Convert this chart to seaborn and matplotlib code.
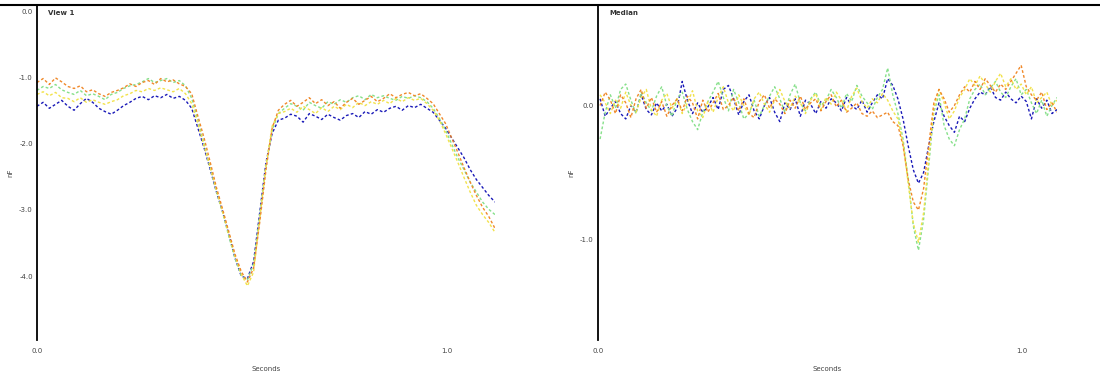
from matplotlib import pyplot as plt
from matplotlib.lines import Line2D
import seaborn as sns
import pandas as pd
import numpy as np

# left panel, "View 1": 75 samples per trace
view_blue = [1.43, 1.37, 1.46, 1.40, 1.34, 1.43, 1.49, 1.39, 1.31, 1.37, 1.46, 1.51, 1.55, 1.49, 1.42,
             1.37, 1.31, 1.28, 1.33, 1.27, 1.30, 1.25, 1.31, 1.28, 1.34,
             1.46, 1.76, 2.06, 2.39, 2.73, 3.03, 3.37, 3.73, 4.00, 4.04, 3.78, 3.03, 2.28, 1.84, 1.64,
             1.61, 1.55, 1.58, 1.67, 1.54, 1.58, 1.63, 1.55, 1.60, 1.64, 1.57, 1.54, 1.60, 1.51, 1.55,
             1.48, 1.52, 1.46, 1.43, 1.49, 1.42, 1.45, 1.40,
             1.46, 1.52, 1.64, 1.76, 1.91, 2.06, 2.21, 2.39, 2.54, 2.66, 2.78, 2.88]
view_green = [1.19, 1.13, 1.16, 1.10, 1.18, 1.22, 1.25, 1.19, 1.27, 1.24, 1.28, 1.33, 1.25, 1.22, 1.16,
              1.12, 1.10, 1.06, 1.01, 1.07, 1.04, 1.01, 1.07, 1.04, 1.12,
              1.31, 1.64, 2.00, 2.36, 2.72, 3.04, 3.40, 3.73, 3.99, 4.06, 3.82, 3.07, 2.33, 1.79, 1.54,
              1.46, 1.39, 1.43, 1.49, 1.37, 1.42, 1.46, 1.36, 1.40, 1.33, 1.37, 1.30, 1.27, 1.33, 1.25,
              1.30, 1.27, 1.31, 1.34, 1.28, 1.31, 1.27, 1.30,
              1.36, 1.46, 1.61, 1.79, 2.00, 2.21, 2.39, 2.58, 2.73, 2.88, 2.99, 3.07]
view_yellow = [1.25, 1.21, 1.27, 1.22, 1.30, 1.31, 1.36, 1.30, 1.37, 1.33, 1.37, 1.40, 1.36, 1.33, 1.27,
               1.24, 1.19, 1.21, 1.16, 1.19, 1.15, 1.18, 1.21, 1.16, 1.24,
               1.39, 1.69, 2.03, 2.36, 2.70, 3.03, 3.37, 3.70, 3.97, 4.15, 3.94, 3.13, 2.33, 1.73, 1.54,
               1.51, 1.46, 1.52, 1.43, 1.48, 1.54, 1.45, 1.51, 1.43, 1.48, 1.40, 1.45, 1.37, 1.42, 1.36,
               1.40, 1.34, 1.39, 1.31, 1.36, 1.30, 1.34, 1.31,
               1.39, 1.49, 1.64, 1.84, 2.06, 2.28, 2.51, 2.73, 2.93, 3.07, 3.19, 3.34]
view_orange = [1.07, 1.01, 1.10, 1.00, 1.06, 1.13, 1.16, 1.12, 1.21, 1.18, 1.24, 1.28, 1.22, 1.19, 1.15,
               1.09, 1.13, 1.07, 1.04, 1.10, 1.01, 1.06, 1.03, 1.09, 1.13,
               1.24, 1.58, 1.91, 2.28, 2.66, 2.99, 3.33, 3.67, 3.93, 4.09, 3.88, 3.18, 2.39, 1.76, 1.49,
               1.40, 1.34, 1.43, 1.37, 1.30, 1.39, 1.33, 1.42, 1.36, 1.46, 1.37, 1.31, 1.40, 1.34, 1.28,
               1.36, 1.31, 1.24, 1.30, 1.25, 1.22, 1.27, 1.24,
               1.31, 1.39, 1.54, 1.69, 1.91, 2.13, 2.36, 2.58, 2.78, 2.96, 3.10, 3.28]

# right panel, "Median": 90 samples per trace
med_blue = [0.05, -0.08, -0.02, 0.03, -0.06, -0.10, 0.00, -0.05, 0.08, -0.03, -0.07, 0.02, -0.04, 0.01,
            -0.08, -0.02, 0.18, 0.04, -0.06, 0.02, -0.05,
            -0.01, 0.06, -0.03, 0.12, 0.15, 0.05, -0.07, 0.03, 0.08, -0.04, -0.10, 0.00, 0.06, -0.05,
            -0.12, 0.02, -0.03, 0.05, -0.08, 0.04,
            0.01, -0.06, 0.03, -0.02, 0.05, 0.02, -0.04, 0.06, 0.00, -0.03, 0.04, -0.05, 0.02, 0.08,
            0.05, 0.20, 0.15, 0.05,
            -0.10, -0.30, -0.48, -0.58, -0.50, -0.30, -0.12, 0.02, -0.08, -0.15, -0.20, -0.08,
            -0.12, -0.02, 0.05, 0.10, 0.08, 0.14, 0.06, 0.04, 0.10, 0.05, 0.02, 0.07, 0.03, -0.10,
            0.05, -0.02, 0.04, -0.06, -0.03]
med_green = [-0.25, -0.05, 0.08, -0.02, 0.12, 0.16, 0.04, -0.06, 0.10, 0.02, -0.04, 0.07, 0.14, 0.00,
             -0.08, 0.05, 0.10, -0.03, -0.12, -0.18, -0.05,
             0.03, 0.10, 0.18, 0.06, -0.04, 0.12, 0.02, -0.10, -0.06, 0.04, -0.08, 0.00, 0.07, 0.14,
             0.05, -0.05, 0.08, 0.16, 0.02, -0.04,
             0.05, 0.10, 0.00, 0.04, 0.12, 0.06, -0.02, 0.09, 0.03, 0.15, 0.07, 0.02, -0.03, 0.06,
             0.12, 0.28, 0.08, -0.06,
             -0.25, -0.55, -0.90, -1.08, -0.85, -0.45, -0.05, 0.08, -0.15, -0.25, -0.30, -0.18,
             -0.10, 0.05, 0.12, 0.16, 0.08, 0.13, 0.18, 0.10, 0.06, 0.14, 0.20, 0.08, 0.12, 0.02,
             -0.06, 0.04, -0.08, 0.00, 0.06]
med_yellow = [0.08, 0.02, -0.06, 0.04, -0.02, 0.10, 0.00, -0.05, 0.06, 0.12, -0.03, -0.08, 0.04, 0.09,
              -0.02, 0.05, -0.06, 0.02, 0.11, -0.04, -0.09,
              0.03, -0.05, 0.06, 0.14, 0.02, -0.04, 0.08, 0.00, -0.07, 0.05, 0.10, 0.01, -0.05, 0.04,
              0.12, 0.03, -0.02, 0.07, 0.02, -0.06,
              0.04, 0.09, -0.03, 0.06, 0.01, 0.10, 0.04, -0.04, 0.07, 0.13, 0.03, -0.02, 0.05, 0.02,
              0.09, 0.04, -0.04, -0.10,
              -0.28, -0.58, -0.88, -1.02, -0.80, -0.40, -0.02, 0.12, 0.02, -0.10, -0.04, 0.06,
              0.12, 0.20, 0.15, 0.22, 0.16, 0.10, 0.18, 0.24, 0.14, 0.20, 0.12, 0.16, 0.08, 0.14,
              0.02, 0.06, 0.10, 0.00, 0.04]
med_orange = [0.00, 0.10, 0.04, -0.06, 0.08, 0.02, -0.09, 0.05, 0.12, -0.02, 0.06, -0.05, 0.03, -0.08,
              0.00, 0.05, -0.04, 0.07, 0.02, -0.10, 0.04,
              -0.05, 0.02, 0.09, -0.03, 0.00, 0.06, -0.04, 0.05, -0.06, -0.09, 0.03, 0.08, -0.02, 0.05,
              0.01, -0.06, 0.04, -0.02, 0.07, -0.03,
              0.02, 0.05, -0.04, 0.03, 0.08, -0.01, 0.04, -0.05, -0.02, 0.02, -0.06, -0.08, -0.04, -0.09,
              -0.07, -0.05, -0.12, -0.15,
              -0.30, -0.55, -0.72, -0.78, -0.62, -0.30, 0.02, 0.12, 0.05, -0.05, 0.00, 0.08,
              0.14, 0.10, 0.18, 0.12, 0.20, 0.15, 0.10, 0.16, 0.12, 0.18, 0.24, 0.30, 0.14, 0.08,
              0.04, 0.10, -0.03, 0.02, -0.05]

trace_names = ['blue', 'green', 'yellow', 'orange']
trace_colors = ['#1a1ab8', '#86e08a', '#f2e24a', '#f0892a']
view_time = np.linspace(0, 1.117, len(view_blue))
med_time = np.linspace(0.005, 1.083, len(med_blue))


def long_frame(time, traces, sign):
    parts = []
    for name, vals in zip(trace_names, traces):
        parts.append(pd.DataFrame({'Seconds': time, 'nF': sign * np.array(vals), 'trace': name}))
    return pd.concat(parts, ignore_index=True)


def style_axes(ax, title, yticks, xticks, xlim, ylim):
    ax.set_xlim(*xlim)
    ax.set_ylim(*ylim)
    for side in ['top', 'right', 'bottom']:
        ax.spines[side].set_visible(False)
    ax.spines['left'].set_color('black')
    ax.spines['left'].set_linewidth(1.3)
    ax.set_yticks(yticks)
    ax.set_yticklabels([f'{v:.1f}' for v in yticks])
    ax.set_xticks(xticks)
    ax.set_xticklabels([f'{v:.1f}' for v in xticks])
    ax.tick_params(axis='y', direction='in', length=4, width=0.8, labelsize=5, labelcolor='#444444', pad=3)
    ax.tick_params(axis='x', length=0, labelsize=5, labelcolor='#444444', pad=6)
    ax.set_xlabel('Seconds', fontsize=5, color='#444444', labelpad=8)
    ax.set_ylabel('nF', fontsize=5, color='#444444', labelpad=4)
    ax.text(0.025, 0.985, title, transform=ax.transAxes, fontsize=5, fontweight='bold',
            color='#333333', va='top', ha='left')
    ax.grid(False)
    if ax.get_legend() is not None:
        ax.get_legend().remove()


sns.set_style('white')
fig = plt.figure(figsize=(11, 3.83), dpi=100)
ax_l = fig.add_axes([0.0336, 0.112, 0.4164, 0.875])
ax_r = fig.add_axes([0.5436, 0.112, 0.4174, 0.875])

sns.lineplot(data=long_frame(view_time, [view_blue, view_green, view_yellow, view_orange], -1),
             x='Seconds', y='nF', hue='trace', palette=trace_colors, ax=ax_l,
             linewidth=1.0, dashes=False, linestyle=(0, (2, 1.6)))
sns.lineplot(data=long_frame(med_time, [med_blue, med_green, med_yellow, med_orange], 1),
             x='Seconds', y='nF', hue='trace', palette=trace_colors, ax=ax_r,
             linewidth=1.0, dashes=False, linestyle=(0, (2, 1.6)))

style_axes(ax_l, 'View 1', [0, -1, -2, -3, -4], [0, 1], (0, 1.117), (-4.97, 0.104))
style_axes(ax_r, 'Median', [0, -1], [0, 1], (0, 1.083), (-1.75, 0.75))

fig.add_artist(Line2D([0, 1], [0.987, 0.987], transform=fig.transFigure, color='black', linewidth=1.5))

fig.savefig('out.png', dpi=100)
